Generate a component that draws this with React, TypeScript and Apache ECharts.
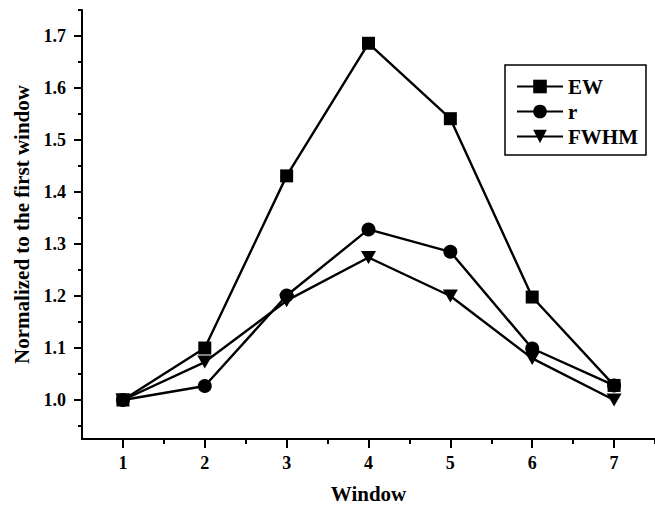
import React, { useEffect, useRef } from "react";
import * as echarts from "echarts";

const windows = [1, 2, 3, 4, 5, 6, 7];
const ewValues = [1.0, 1.1, 1.431, 1.686, 1.541, 1.198, 1.028];
const rValues = [1.0, 1.027, 1.201, 1.328, 1.285, 1.099, 1.028];
const fwhmValues = [1.0, 1.073, 1.191, 1.274, 1.2, 1.08, 1.0];

const xTicks = [1, 2, 3, 4, 5, 6, 7];
const xMinorTicks = [1.5, 2.5, 3.5, 4.5, 5.5, 6.5, 7.5];
const yTicks = [1.0, 1.1, 1.2, 1.3, 1.4, 1.5, 1.6, 1.7];
const yMinorTicks = [0.95, 1.05, 1.15, 1.25, 1.35, 1.45, 1.55, 1.65, 1.75];

const seriesNames = ["EW", "r", "FWHM"];

const FONT = "Liberation Serif";

export default function App() {
  const ref = useRef<HTMLDivElement>(null);
  useEffect(() => {
    if (!ref.current) return;
    const chart = echarts.init(ref.current, null, { renderer: "svg" });
    const toData = (vals: number[]) => windows.map((w, i) => [w, vals[i]]);
    const lineStyle = { color: "#000", width: 2.4 };
    const itemStyle = { color: "#000" };
    const axisLineStyle = { color: "#000", width: 2 };
    chart.setOption({
      animation: false,
      backgroundColor: "#fff",
      grid: { left: 82, right: -6, top: 10, bottom: 68.3, containLabel: false },
      legend: {
        data: seriesNames,
        orient: "vertical",
        left: 505,
        top: 65,
        itemWidth: 46,
        itemHeight: 17,
        itemGap: 4,
        padding: [11, 8, 8, 11],
        borderColor: "#000",
        borderWidth: 1.5,
        textStyle: { fontFamily: FONT, fontWeight: "bold", fontSize: 21, color: "#000" },
      },
      xAxis: [
        {
          type: "value",
          min: 0.5,
          max: 7.5,
          name: "Window",
          nameLocation: "middle",
          nameGap: 44,
          nameTextStyle: { fontFamily: FONT, fontWeight: "bold", fontSize: 21, color: "#000" },
          axisLine: { show: true, onZero: false, lineStyle: axisLineStyle },
          axisTick: { show: true, length: 9, lineStyle: axisLineStyle, customValues: xTicks },
          axisLabel: {
            show: true,
            margin: 15,
            customValues: xTicks,
            fontFamily: FONT,
            fontWeight: "bold",
            fontSize: 18,
            color: "#000",
            formatter: (v: number) => String(Math.round(v)),
          },
          splitLine: { show: false },
        },
        {
          type: "value",
          min: 0.5,
          max: 7.5,
          position: "bottom",
          offset: 0,
          axisLine: { show: false, onZero: false },
          axisTick: { show: true, length: 5, lineStyle: axisLineStyle, customValues: xMinorTicks },
          axisLabel: { show: false },
          splitLine: { show: false },
        },
      ],
      yAxis: [
        {
          type: "value",
          min: 0.925,
          max: 1.75,
          position: "left",
          name: "Normalized to the first window",
          nameLocation: "middle",
          nameGap: 50,
          nameTextStyle: { fontFamily: FONT, fontWeight: "bold", fontSize: 21, color: "#000" },
          axisLine: { show: true, onZero: false, lineStyle: axisLineStyle },
          axisTick: { show: true, length: 8, lineStyle: axisLineStyle, customValues: yTicks },
          axisLabel: {
            show: true,
            margin: 16,
            customValues: yTicks,
            fontFamily: FONT,
            fontWeight: "bold",
            fontSize: 18,
            color: "#000",
            formatter: (v: number) => v.toFixed(1),
          },
          splitLine: { show: false },
        },
        {
          type: "value",
          min: 0.925,
          max: 1.75,
          position: "left",
          offset: 0,
          axisLine: { show: false, onZero: false },
          axisTick: { show: true, length: 4, lineStyle: axisLineStyle, customValues: yMinorTicks },
          axisLabel: { show: false },
          splitLine: { show: false },
        },
      ],
      series: [
        {
          name: seriesNames[0],
          type: "line",
          data: toData(ewValues),
          symbol: "rect",
          symbolSize: 13,
          lineStyle,
          itemStyle,
          z: 3,
        },
        {
          name: seriesNames[1],
          type: "line",
          data: toData(rValues),
          symbol: "circle",
          symbolSize: 14,
          lineStyle,
          itemStyle,
          z: 2,
        },
        {
          name: seriesNames[2],
          type: "line",
          data: toData(fwhmValues),
          symbol: "triangle",
          symbolRotate: 180,
          symbolSize: [15, 13],
          lineStyle,
          itemStyle,
          z: 2,
        },
      ],
    });
    return () => chart.dispose();
  }, []);
  return (
    <div
      ref={ref}
      style={{ position: "absolute", left: 0, top: 0, width: 655, height: 509 }}
    />
  );
}
